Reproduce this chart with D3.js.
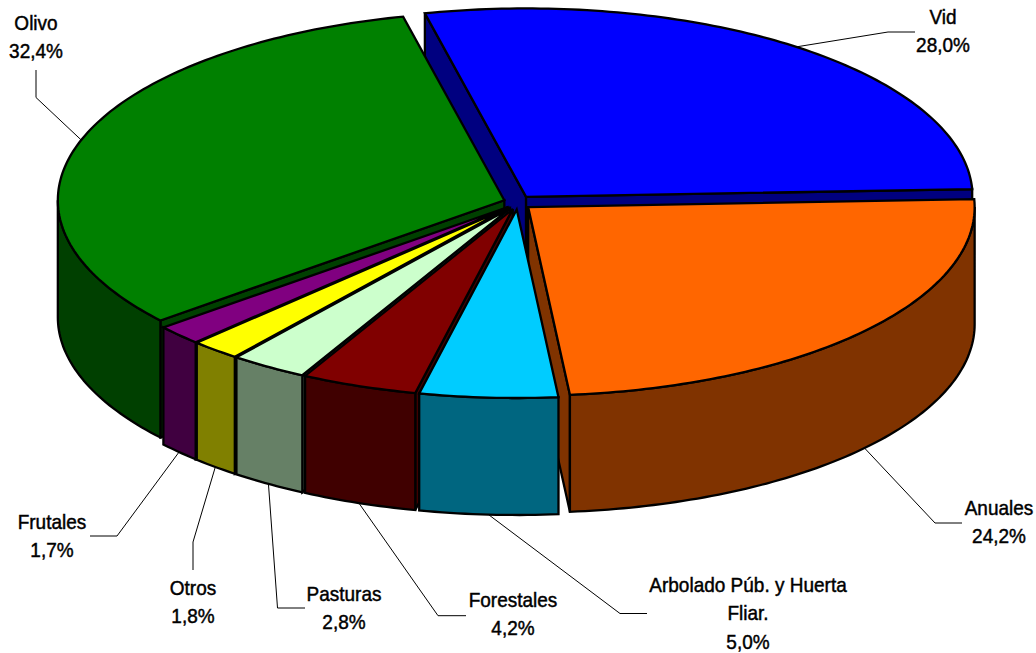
<!DOCTYPE html>
<html><head><meta charset="utf-8">
<script src="https://cdn.jsdelivr.net/npm/d3@7/dist/d3.min.js"></script>
<style>html,body{margin:0;padding:0;background:#fff}svg{display:block}
text{font-family:"Liberation Sans",Arial,sans-serif;font-size:20px;fill:#000;text-anchor:middle;stroke:#000;stroke-width:.45px}</style>
</head><body><svg id="c" width="1036" height="653"></svg>
<script>
// Data
const categories=["Vid","Anuales","Arbolado Púb. y Huerta Fliar.","Forestales","Pasturas","Otros","Frutales","Olivo"];
const shares=[28.0,24.2,5.0,4.2,2.8,1.8,1.7,32.4];
const valueLabels=["28,0%","24,2%","5,0%","4,2%","2,8%","1,8%","1,7%","32,4%"];
const topColors=["#0000FF","#FF6600","#00CCFF","#800000","#CCFFCC","#FFFF00","#800080","#008000"];
const sideColors=["#000080","#803300","#006680","#400000","#668066","#808000","#400040","#004000"];
// Paint order, back to front
const paintOrder=[0,7,6,5,4,3,1,2];
// Label layout: text centre, first baseline, leader elbow and leader end
const labelLines=[["Vid"],["Anuales"],["Arbolado Púb. y Huerta","Fliar."],["Forestales"],["Pasturas"],["Otros"],["Frutales"],["Olivo"]];
const labelCx=[943,999,748,513,344,193,52,36];
const labelY=[24,515,592,607,601,595,529,30];
const elbowX=[888,935,620,438,277.5,193,117,36];
const elbowY=[32,523,613.5,615.7,608,542,536,97.5];
const endX=[915,962,647,466,305,193,90,36];
const endY=[32,523,613.5,615.7,608,570,536,70];

const cx=517.6,cy=202.5,rx=446.5,ry=188.5,depth=117,exX=14,exY=7,lineGap=28.3,textSqueeze=0.95;
const startDeg=-13.1;
const rad=d=>d*Math.PI/180;
const pie=d3.pie().sort(null).startAngle(rad(startDeg)).endAngle(rad(startDeg+360));
const arcs=pie(shares);
const sx=d3.scaleLinear().domain([-1,1]).range([-rx,rx]);
const sy=d3.scaleLinear().domain([-1,1]).range([-ry,ry]);
const svg=d3.select("#c");
const line=d3.line();
function center(a){const m=(a.startAngle+a.endAngle)/2;return [cx+exX*Math.sin(m),cy-exY*Math.cos(m)];}
function pt(a,t,dz=0){const c=center(a);return [c[0]+sx(Math.sin(t)),c[1]-sy(Math.cos(t))+dz];}
function samples(a0,a1){const n=Math.max(2,Math.ceil((a1-a0)/rad(1)));return d3.range(n+1).map(i=>a0+(a1-a0)*i/n);}

function poly(points,fill){svg.append("path").attr("d",line(points)+"Z").attr("fill",fill)
  .attr("stroke","#000").attr("stroke-width",2.3).attr("stroke-linejoin","miter");}

paintOrder.forEach(i=>{
  const a=arcs[i],c=center(a),side=sideColors[i];
  const p0=pt(a,a.startAngle),p1=pt(a,a.endAngle);
  // radial walls, only those that face the viewer
  if(Math.sin(a.startAngle)<0) poly([c,p0,[p0[0],p0[1]+depth],[c[0],c[1]+depth]],side);
  if(Math.sin(a.endAngle)>0) poly([c,p1,[p1[0],p1[1]+depth],[c[0],c[1]+depth]],side);
  // rim: only the part of the rim that faces the viewer
  const lo=Math.max(a.startAngle,rad(90)),hi=Math.min(a.endAngle,rad(270));
  if(hi>lo){const s=samples(lo,hi);
    poly(s.map(t=>pt(a,t)).concat(s.slice().reverse().map(t=>pt(a,t,depth))),side);}
  // top
  poly([c].concat(samples(a.startAngle,a.endAngle).map(t=>pt(a,t))),topColors[i]);
});

arcs.forEach((a,i)=>{
  const m=(a.startAngle+a.endAngle)/2;
  const anchor=pt(a,m,Math.cos(m)<0?depth:0);
  svg.append("path").attr("d",line([anchor,[elbowX[i],elbowY[i]],[endX[i],endY[i]]]))
    .attr("fill","none").attr("stroke","#000").attr("stroke-width",1);
  const t=svg.append("text").attr("transform",`translate(${labelCx[i]},0) scale(${textSqueeze},1)`);
  labelLines[i].concat([valueLabels[i]]).forEach((s,k)=>{
    t.append("tspan").attr("x",0).attr("y",labelY[i]+k*lineGap).text(s);
  });
});
</script></body></html>
